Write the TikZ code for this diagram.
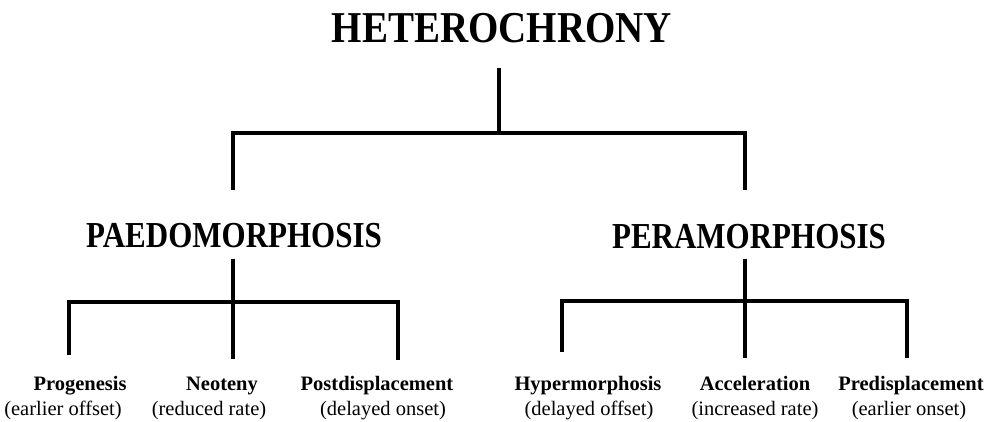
\documentclass[tikz,border=0pt]{standalone}
\usepackage{fontspec}
\setmainfont{Liberation Serif}

\begin{document}
\begin{tikzpicture}[
  x=1pt,
  y=-1pt,
  every node/.style={inner sep=0pt, black},
  title/.style={font=\fontsize{39}{44}\selectfont\bfseries, anchor=base},
  group/.style={font=\fontsize{31}{36}\selectfont\bfseries, anchor=base},
  kind/.style={font=\fontsize{20.5}{24}\selectfont\bfseries, anchor=base},
  note/.style={font=\fontsize{20.5}{24}\selectfont, anchor=base},
  branch/.style={black, line width=4.2pt}
]
  \useasboundingbox (0,0) rectangle (1003,421);

  % ---- headings (caps a little taller than the face gives) ----
  \node[title] (hetero) at (502,42)  {\scalebox{1}[1.13]{HETEROCHRONY}};
  \node[group] (paedo)  at (234,247) {\scalebox{1}[1.18]{PAEDOMORPHOSIS}};
  \node[group] (peram)  at (749,248) {\scalebox{1}[1.18]{PERAMORPHOSIS}};

  % ---- leaves ----
  \node[kind] (prog)        at (80,390)  {Progenesis};
  \node[note] (prog note)   at (63,415)  {(earlier offset)};
  \node[kind] (neot)        at (222,390) {Neoteny};
  \node[note] (neot note)   at (209,415) {(reduced rate)};
  \node[kind] (postd)       at (377,390) {Postdisplacement};
  \node[note] (postd note)  at (383,415) {(delayed onset)};
  \node[kind] (hyper)       at (588,390) {Hypermorphosis};
  \node[note] (hyper note)  at (589,415) {(delayed offset)};
  \node[kind] (accel)       at (755,390) {Acceleration};
  \node[note] (accel note)  at (755,415) {(increased rate)};
  \node[kind] (pred)        at (911,390) {Predisplacement};
  \node[note] (pred note)   at (909,415) {(earlier onset)};

  % ---- forks and branch tips ----
  \coordinate (top fork)   at (499,133);
  \coordinate (left fork)  at (233,302);
  \coordinate (right fork) at (745,301);
  \coordinate (prog tip)   at (69,355);
  \coordinate (neot tip)   at (233,359);
  \coordinate (postd tip)  at (398,360);
  \coordinate (hyper tip)  at (562,352);
  \coordinate (accel tip)  at (745,358);
  \coordinate (pred tip)   at (907,358);

  % ---- top level ----
  \draw[branch, shorten <=25pt] (hetero.south -| top fork) -- (top fork);
  \draw[branch, shorten <=33pt, shorten >=34pt]
    (left fork |- paedo.north) -- (left fork |- top fork)
    -- (right fork |- top fork) -- (right fork |- peram.north);

  % ---- paedomorphosis ----
  \draw[branch, shorten <=11pt] (paedo.south -| left fork) -- (neot tip);
  \draw[branch] (prog tip) |- (postd tip |- left fork) -- (postd tip);

  % ---- peramorphosis ----
  \draw[branch, shorten <=10pt] (peram.south -| right fork) -- (accel tip);
  \draw[branch] (hyper tip) |- (pred tip |- right fork) -- (pred tip);
\end{tikzpicture}
\end{document}
